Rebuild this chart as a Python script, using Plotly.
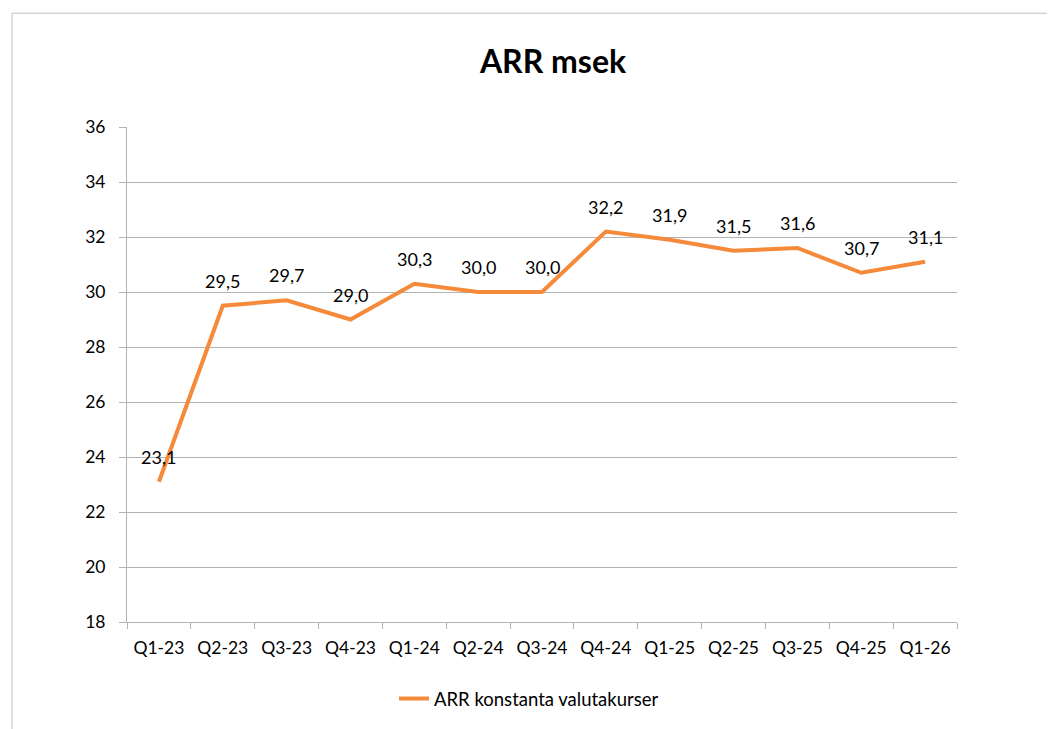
import plotly.graph_objects as go

categories = ["Q1-23", "Q2-23", "Q3-23", "Q4-23", "Q1-24", "Q2-24", "Q3-24",
              "Q4-24", "Q1-25", "Q2-25", "Q3-25", "Q4-25", "Q1-26"]
arr_values = [23.1, 29.5, 29.7, 29.0, 30.3, 30.0, 30.0, 32.2, 31.9, 31.5, 31.6, 30.7, 31.1]
series_name = "ARR konstanta valutakurser"
y_ticks = [18, 20, 22, 24, 26, 28, 30, 32, 34, 36]

FONT = "Lato"
ORANGE = "#F58A3A"
GRID = "#B3B3B3"

fig = go.Figure()
fig.add_trace(go.Scatter(
    x=categories, y=arr_values, mode="lines", name=series_name,
    line=dict(color=ORANGE, width=4),
))

for c, v in zip(categories, arr_values):
    fig.add_annotation(x=c, y=v, text=f"{v:.1f}".replace(".", ","),
                       showarrow=False, yshift=25,
                       font=dict(family=FONT, size=18, color="#000000"))

# page has an 8px body margin; figure coordinates are page minus 8
OFF = 8
W, H = 1055 - OFF, 729 - OFF
L, R, T, B = 127 - OFF, 957 - OFF, 127 - OFF, 623 - OFF
pw, ph = R - L, B - T

fig.add_shape(type="rect", xref="paper", yref="paper",
              x0=(12 - OFF - L) / pw, x1=(1070 - L) / pw,
              y0=(B - 760) / ph, y1=(B - (13 - OFF)) / ph,
              line=dict(color="#BFBFBF", width=1), fillcolor="rgba(0,0,0,0)", layer="below")

fig.update_layout(
    width=W, height=H,
    margin=dict(l=L, r=W - R, t=T, b=H - B),
    paper_bgcolor="white", plot_bgcolor="white",
    font=dict(family=FONT, size=18, color="#000000"),
    title=dict(text="<b>ARR msek</b>", x=(553 - OFF) / W, xref="container", xanchor="center",
               y=1 - (62 - OFF) / H, yref="container", yanchor="middle",
               font=dict(family=FONT, size=32, color="#000000")),
    showlegend=True,
    legend=dict(orientation="h", x=(529 - OFF - L) / pw, xanchor="center",
                y=(B - (699 - OFF)) / ph, yanchor="middle",
                font=dict(family=FONT, size=18.5, color="#000000")),
    xaxis=dict(type="category", range=[-0.5, len(categories) - 0.5],
               showgrid=False, showline=True, linecolor=GRID, linewidth=1,
               ticks="outside", tickson="boundaries", ticklen=6, tickcolor=GRID,
               ticklabelstandoff=10,
               tickfont=dict(family=FONT, size=17.5), zeroline=False),
    yaxis=dict(range=[18, 36], tickvals=y_ticks, showgrid=True, gridcolor=GRID, gridwidth=1,
               showline=True, linecolor=GRID, linewidth=1,
               ticks="outside", ticklen=7, tickcolor=GRID, ticklabelstandoff=10,
               tickfont=dict(family=FONT, size=17.5), zeroline=False),
)

fig.write_html("out.html")
